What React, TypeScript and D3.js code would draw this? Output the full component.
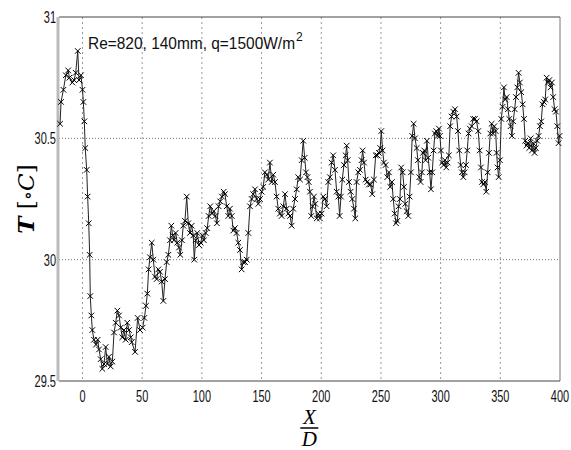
import React, { useEffect, useRef } from 'react';
import * as d3 from 'd3';

const W = 571, H = 450;
const margin = { top: 17, right: 11, bottom: 69, left: 59 };

// x/D positions and temperatures
const xPos = [
  -18.8, -18, -16, -14, -12, -11, -8.5, -7, -5.7, -4, -2.9, -1.3, 0, 0.7, 1.5, 2.3, 3.5, 4.3, 5.2, 6,
  6.5, 7.4, 8.2, 9.6, 11.3, 12.7, 13.8, 15.2, 16.6, 18, 19.4, 20.8, 22.2, 23.6, 25, 26.4, 27.8, 29.2, 30.6, 32,
  33.3, 34.7, 36.2, 37.5, 39, 40.4, 41.2, 44, 46.2,
  48.2, 50.4, 51.8, 53.2, 54.3, 55.4, 56.5, 58, 59.3, 60.7, 62.1, 63.5, 64.9, 66.3, 67.7, 69.1, 70.5, 71.9, 73.3, 74.4,
  75.5, 76.6, 78, 79.4, 80.8, 81.9, 83.3, 84.4, 85.8, 87.3, 88.6, 90, 91.5, 92.8, 93.6, 94.8, 96.1, 97.6, 99, 100.3,
  101.7, 103.2, 104.5, 105.7, 107, 108.5, 109.9, 111.3, 112.6, 114, 115.4, 116.8, 118.3,
  119.3, 120.8, 122.1, 123.5, 125, 126.3, 127.7, 129.1, 130.5, 131.9, 133.3, 134.7, 136.1, 137.5, 138.9, 140.3, 141.7, 143, 144.5, 145.9,
  147.3, 148.7, 150.1, 151.4, 152.8, 154.3, 155.6, 157, 158.5, 159.8, 161.2, 162.6, 164, 165.4, 166.8, 168.2, 169.6, 171, 172.4, 173.8,
  175.2, 176.5, 178, 179.4, 180.7, 182.2, 183.6, 184.9,
  186.1, 187.2, 188.4, 189.5, 190.5, 191.6, 192.8, 193.9, 195, 196.2, 197.5, 198.9, 200.3, 201.7, 203.1, 204.5, 205.9, 207.3, 208.7, 210,
  211.5, 212.9, 214.3, 215.4, 216.5, 217.6, 219, 220.4, 221.3, 222.1, 223.2, 224.6, 226, 227.4, 228.5, 229.6, 231, 232.4, 233.8, 234.7,
  235.8, 237.2, 238.5, 240, 241.4, 242.7, 244.1, 245.6, 246.9, 248.3, 249.4, 250.3, 251.4, 252.5,
  253.9, 255.3, 256.7, 257.8, 259.2, 260.3, 261.5, 262.6, 263.7, 264.8, 265.9, 267, 268.2, 269.3, 270.4, 271.5, 272.9, 274, 275.1, 276.2,
  277.4, 278.5, 279.9, 281, 282.1, 283.2, 284.3, 285.2, 286.3, 287.4, 288.5, 289.6, 290.8, 291.9, 293, 294.1, 295.2, 296.3, 297.5, 298.6,
  299.4, 300.3, 301.3, 302.5, 303.6, 304.7, 305.8, 306.9, 308, 309.2, 310.6, 312, 313.4, 314.5, 315.6, 316.8, 317.8, 319, 320.1, 321.2,
  322.3, 323.4,
  324.5, 326, 327.3, 328.7, 330.1, 331.5, 332.7, 333.8, 334.6, 335.7, 337.1, 338.2, 339.4, 340.5, 341.6, 342.7, 343.8, 345, 346.1, 346.9,
  347.7, 348.6, 349.7, 350.8, 351.9, 353, 354.1, 355.3, 356.4, 357.5, 358.6, 359.7, 360.8, 362, 363.1, 364.2, 365.3, 366.4, 367.5, 368.7,
  369.8, 370.9, 372, 373.1, 374.2, 375.4, 376.5, 377.6, 378.7, 379.8, 380.9, 382.1, 383.2, 384.3, 385.4, 386.5, 387.6, 388.8, 389.9, 391,
  392.1, 393.2, 394.3, 395.5, 396.6, 397.7, 398.8, 399.6,
];

const temp = [
  30.56, 30.65, 30.70, 30.76, 30.78, 30.75, 30.73, 30.74, 30.77, 30.86, 30.74, 30.76, 30.70, 30.65, 30.57, 30.46, 30.37, 30.26, 30.15, 30.02,
  29.85, 29.77, 29.71, 29.67, 29.65, 29.67, 29.63, 29.59, 29.55, 29.57, 29.64, 29.57, 29.60, 29.56, 29.58, 29.70, 29.74, 29.79, 29.77, 29.72,
  29.68, 29.71, 29.67, 29.74, 29.71, 29.68, 29.66, 29.62, 29.76,
  29.71, 29.72, 29.76, 29.81, 29.86, 29.96, 30.01, 30.07, 30.00, 29.93, 29.92, 29.96, 29.95, 29.91, 29.83, 29.92, 29.99, 30.02, 30.08, 30.14,
  30.10, 30.08, 30.11, 30.07, 30.05, 30.02, 30.08, 30.14, 30.16, 30.26, 30.15, 30.11, 30.14, 30.10, 30.00, 30.08, 30.11, 30.06, 30.07, 30.10,
  30.08, 30.11, 30.13, 30.18, 30.22, 30.19, 30.20, 30.18, 30.15, 30.22, 30.24, 30.26, 30.28,
  30.27, 30.22, 30.18, 30.21, 30.18, 30.12, 30.13, 30.11, 30.07, 30.04, 29.96, 29.99, 29.99, 30.00, 30.11, 30.22, 30.25, 30.27, 30.29, 30.25,
  30.23, 30.25, 30.28, 30.30, 30.36, 30.35, 30.33, 30.40, 30.32, 30.35, 30.32, 30.26, 30.21, 30.19, 30.18, 30.22, 30.27, 30.21, 30.19, 30.18,
  30.14, 30.21, 30.25, 30.29, 30.34, 30.33, 30.41, 30.49,
  30.42, 30.36, 30.34, 30.32, 30.28, 30.18, 30.22, 30.26, 30.23, 30.17, 30.19, 30.17, 30.19, 30.26, 30.25, 30.22, 30.32, 30.34, 30.40, 30.43,
  30.37, 30.28, 30.26, 30.18, 30.26, 30.33, 30.39, 30.43, 30.47, 30.41, 30.32, 30.28, 30.25, 30.21, 30.17, 30.32, 30.36, 30.37, 30.41, 30.45,
  30.40, 30.33, 30.32, 30.31, 30.31, 30.27, 30.33, 30.43, 30.43, 30.44, 30.46, 30.53, 30.45, 30.40,
  30.39, 30.34, 30.36, 30.30, 30.32, 30.25, 30.19, 30.15, 30.16, 30.22, 30.25, 30.38, 30.36, 30.30, 30.23, 30.20, 30.18, 30.26, 30.36, 30.51,
  30.56, 30.50, 30.46, 30.41, 30.34, 30.32, 30.36, 30.44, 30.45, 30.41, 30.49, 30.42, 30.36, 30.29, 30.36, 30.45, 30.52, 30.53, 30.51, 30.54,
  30.51, 30.45, 30.40, 30.39, 30.41, 30.38, 30.40, 30.43, 30.55, 30.59, 30.61, 30.62, 30.59, 30.53, 30.45, 30.39, 30.36, 30.34, 30.36, 30.39,
  30.45, 30.52,
  30.54, 30.55, 30.58, 30.58, 30.57, 30.53, 30.45, 30.38, 30.32, 30.31, 30.32, 30.28, 30.36, 30.44, 30.52, 30.56, 30.52, 30.55, 30.53, 30.44,
  30.38, 30.34, 30.41, 30.58, 30.63, 30.71, 30.66, 30.67, 30.62, 30.58, 30.55, 30.51, 30.57, 30.62, 30.67, 30.71, 30.77, 30.73, 30.69, 30.64,
  30.58, 30.49, 30.47, 30.48, 30.46, 30.50, 30.45, 30.48, 30.44, 30.46, 30.49, 30.51, 30.55, 30.57, 30.64, 30.65, 30.66, 30.75, 30.73, 30.74,
  30.71, 30.73, 30.67, 30.62, 30.61, 30.55, 30.48, 30.51,
];

const xTicks = [0, 50, 100, 150, 200, 250, 300, 350, 400];
const yTicks = [29.5, 30, 30.5, 31];

const tickFont = '"Liberation Sans", Arial, sans-serif';
// narrow look: squeeze glyphs to roughly 6px per digit
const narrowLen = (s: string) => s.split('').reduce((a, c) => a + (c === '.' ? 3.2 : 6.1), 0);

export default function App() {
  const ref = useRef<SVGSVGElement>(null);

  useEffect(() => {
    const svg = d3.select(ref.current);
    svg.selectAll('*').remove();

    const x = d3.scaleLinear().domain([-19.7, 400]).range([margin.left, W - margin.right]);
    const y = d3.scaleLinear().domain([29.5, 31]).range([H - margin.bottom, margin.top]);
    const [x0, x1] = x.range();
    const [yb, yt] = y.range();

    svg.append('rect').attr('width', W).attr('height', H).attr('fill', '#fff');

    // grid
    svg.append('g').selectAll('line').data(xTicks.filter(t => t < 400)).join('line')
      .attr('x1', d => x(d)).attr('x2', d => x(d)).attr('y1', yt).attr('y2', yb)
      .attr('stroke', '#999').attr('stroke-width', 1).attr('stroke-dasharray', '2,3');
    svg.append('g').selectAll('line').data(yTicks.filter(t => t > 29.5 && t < 31)).join('line')
      .attr('x1', x0).attr('x2', x1).attr('y1', d => y(d)).attr('y2', d => y(d))
      .attr('stroke', '#777').attr('stroke-width', 1).attr('stroke-dasharray', '1,2');

    // box
    svg.append('line').attr('x1', x0).attr('x2', x1).attr('y1', yt).attr('y2', yt).attr('stroke', '#444');
    svg.append('line').attr('x1', x1).attr('x2', x1).attr('y1', yt).attr('y2', yb).attr('stroke', '#777');
    svg.append('line').attr('x1', x0).attr('x2', x1).attr('y1', yb).attr('y2', yb).attr('stroke', '#444');
    svg.append('line').attr('x1', x0 - 1).attr('x2', x0 - 1).attr('y1', yt).attr('y2', yb)
      .attr('stroke', '#bbb').attr('stroke-width', 3);

    // tick labels
    svg.append('g').selectAll('text').data(xTicks).join('text')
      .attr('x', d => x(d)).attr('y', yb + 21).attr('text-anchor', 'middle')
      .attr('font-family', tickFont).attr('font-size', 17).attr('fill', '#111')
      .attr('textLength', d => narrowLen(String(d))).attr('lengthAdjust', 'spacingAndGlyphs')
      .text(d => d3.format('d')(d));
    svg.append('g').selectAll('text').data(yTicks).join('text')
      .attr('x', x0 - 3).attr('y', d => y(d) + 6).attr('text-anchor', 'end')
      .attr('font-family', tickFont).attr('font-size', 17).attr('fill', '#111')
      .attr('textLength', d => narrowLen(String(d))).attr('lengthAdjust', 'spacingAndGlyphs')
      .text(d => String(d));

    // data
    const pts = xPos.map((v, i) => [v, temp[i]] as [number, number]);
    const line = d3.line<[number, number]>().x(d => x(d[0])).y(d => y(d[1]));
    svg.append('path').datum(pts).attr('d', line).attr('fill', 'none')
      .attr('stroke', '#222').attr('stroke-width', 1);
    const sym = d3.symbol().type(d3.symbolX).size(22);
    svg.append('g').selectAll('path').data(pts).join('path')
      .attr('transform', d => `translate(${x(d[0])},${y(d[1])})`)
      .attr('d', sym).attr('fill', 'none').attr('stroke', '#000').attr('stroke-width', 1);

    // annotation
    const ann = svg.append('text').attr('x', 88).attr('y', 49)
      .attr('font-family', tickFont).attr('font-size', 17).attr('fill', '#111');
    ann.append('tspan').attr('textLength', 207).attr('lengthAdjust', 'spacingAndGlyphs')
      .text('Re=820, 140mm, q=1500W/m');
    ann.append('tspan').attr('dx', 1).attr('dy', -8).attr('font-size', 12).text('2');

    // y label
    const yl = svg.append('text').attr('transform', `translate(34,${(yt + yb) / 2}) rotate(-90)`)
      .attr('text-anchor', 'middle').attr('font-family', '"DejaVu Serif", "Liberation Serif", serif')
      .attr('font-size', 23).attr('fill', '#000');
    yl.append('tspan').attr('font-style', 'italic').attr('font-weight', 'bold').text('T');
    yl.append('tspan').text(' [');
    yl.append('tspan').attr('font-size', 19).text('∘');
    yl.append('tspan').attr('font-style', 'italic').text('C');
    yl.append('tspan').text(']');

    // x label (fraction)
    const cx = x(190);
    const lab = svg.append('g').attr('font-family', '"Liberation Serif", "Times New Roman", serif')
      .attr('font-style', 'italic').attr('font-size', 21).attr('text-anchor', 'middle').attr('fill', '#000');
    lab.append('text').attr('x', cx).attr('y', 424).text('X');
    lab.append('line').attr('x1', cx - 9).attr('x2', cx + 9).attr('y1', 428).attr('y2', 428)
      .attr('stroke', '#000').attr('stroke-width', 1.5);
    lab.append('text').attr('x', cx).attr('y', 446).text('D');
  }, []);

  return (
    <svg ref={ref} width={W} height={H}
      style={{ position: 'absolute', left: 0, top: 0, background: '#fff' }} />
  );
}
